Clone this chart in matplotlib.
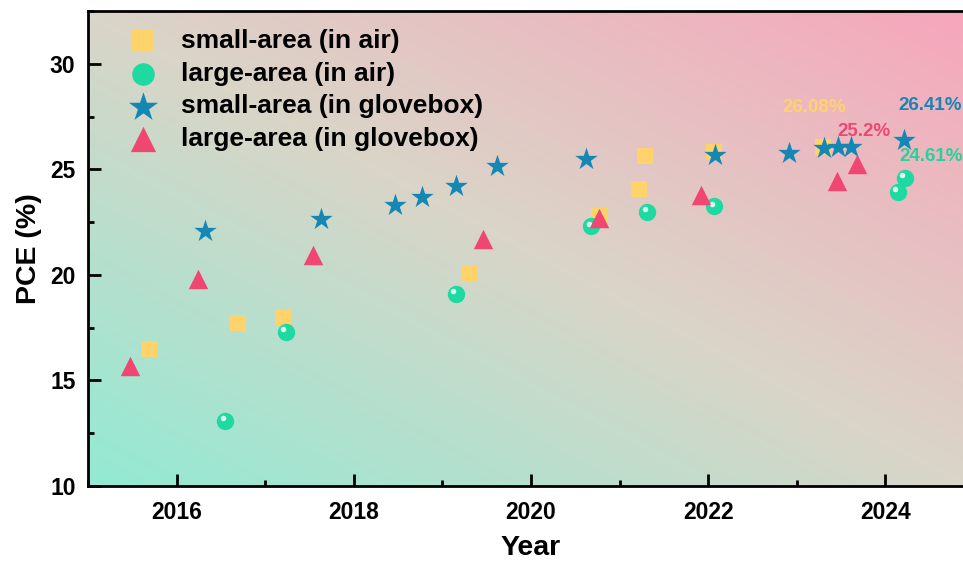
import numpy as np
import matplotlib
matplotlib.use("Agg")
import matplotlib.pyplot as plt
from matplotlib.colors import LinearSegmentedColormap
from matplotlib.transforms import ScaledTranslation
from matplotlib.ticker import MultipleLocator

# ---- data ----
small_air_year = [2015.69, 2016.69, 2017.20, 2019.30, 2020.77, 2021.22, 2021.29, 2022.06, 2023.30]
small_air_pce = [16.48, 17.70, 18.01, 20.06, 22.77, 24.08, 25.61, 25.81, 26.08]

large_air_year = [2016.55, 2017.23, 2019.15, 2020.68, 2021.31, 2022.07, 2024.14, 2024.22]
large_air_pce = [13.09, 17.30, 19.10, 22.30, 22.98, 23.26, 23.95, 24.61]

small_glove_year = [2016.32, 2017.63, 2018.46, 2018.77, 2019.15, 2019.62, 2020.62,
                    2022.08, 2022.91, 2023.31, 2023.46, 2023.61, 2024.21]
small_glove_pce = [22.06, 22.66, 23.29, 23.69, 24.19, 25.18, 25.47,
                   25.66, 25.77, 26.00, 26.05, 26.08, 26.41]

large_glove_year = [2015.47, 2016.24, 2017.54, 2019.46, 2020.77, 2021.92, 2023.45, 2023.68]
large_glove_pce = [15.70, 19.80, 20.96, 21.68, 22.69, 23.77, 24.44, 25.25]

labels = ["small-area (in air)", "large-area (in air)",
          "small-area (in glovebox)", "large-area (in glovebox)"]
record_text = ["26.08%", "24.61%", "26.41%", "25.2%"]

c_sq = "#FFD36B"
c_ci = "#1ED9A0"
c_st = "#1487B4"
c_tr = "#EF4672"

fig = plt.figure(figsize=(9.63, 5.61), dpi=100)
ax = fig.add_axes([88/963, 75/561, 886/963, 475/561])

# background gradient
n = 300
u = np.linspace(0, 1, n)
U, V = np.meshgrid(u, u)
T = (U + V) / 2.0
cmap = LinearSegmentedColormap.from_list(
    "bg", [(0.0, "#93EAD3"), (0.5, "#DAD5C8"), (1.0, "#F7A6BB")])
ax.imshow(T, cmap=cmap, origin="lower", extent=[0, 1, 0, 1],
          transform=ax.transAxes, aspect="auto", zorder=0, interpolation="bilinear")

ax.scatter(small_air_year, small_air_pce, marker="s", s=12**2, color=c_sq,
           linewidths=0, zorder=3, label=labels[0])
ax.scatter(large_air_year, large_air_pce, marker="o", s=12.5**2, color=c_ci,
           linewidths=0, zorder=4, label=labels[1])
hl = ScaledTranslation(-2.5/100, 2.5/100, fig.dpi_scale_trans)
ax.scatter(large_air_year, large_air_pce, marker="o", s=4**2, color="white",
           alpha=0.85, linewidths=0, zorder=4.5, transform=ax.transData + hl)
ax.scatter(small_glove_year, small_glove_pce, marker="*", s=17**2, color=c_st,
           linewidths=0, zorder=6, label=labels[2])
ax.scatter(large_glove_year, large_glove_pce, marker="^", s=14**2, color=c_tr,
           linewidths=0, zorder=5, label=labels[3])

afont = dict(family="Liberation Sans", weight="bold", size=13.5)
ax.annotate(record_text[0], (small_air_year[-1], small_air_pce[-1]),
            xytext=(-9, 39), textcoords="offset pixels", ha="center", va="center",
            color=c_sq, **afont)
ax.annotate(record_text[1], (large_air_year[-1], large_air_pce[-1]),
            xytext=(26, 21), textcoords="offset pixels", ha="center", va="center",
            color="#23D39B", **afont)
ax.annotate(record_text[2], (small_glove_year[-1], small_glove_pce[-1]),
            xytext=(26, 34), textcoords="offset pixels", ha="center", va="center",
            color=c_st, **afont)
ax.annotate(record_text[3], (large_glove_year[-1], large_glove_pce[-1]),
            xytext=(7, 33), textcoords="offset pixels", ha="center", va="center",
            color=c_tr, **afont)

ax.set_xlim(2015, 2025)
ax.set_ylim(10, 32.5)
ax.xaxis.set_major_locator(MultipleLocator(2))
ax.xaxis.set_minor_locator(MultipleLocator(1))
ax.yaxis.set_major_locator(MultipleLocator(5))
ax.yaxis.set_minor_locator(MultipleLocator(2.5))
ax.set_xticks([2016, 2018, 2020, 2022, 2024])
ax.set_yticks([10, 15, 20, 25, 30])

for sp in ax.spines.values():
    sp.set_linewidth(2)
ax.tick_params(which="both", direction="in", width=2, top=False, right=False)
ax.tick_params(which="major", length=9)
ax.tick_params(axis="y", which="major", pad=9)
ax.tick_params(axis="x", which="major", pad=11)
ax.tick_params(which="minor", length=4.5)
for lab in ax.get_xticklabels() + ax.get_yticklabels():
    lab.set_fontfamily("Liberation Sans")
    lab.set_fontweight("bold")
    lab.set_fontsize(16.5)

ax.set_xlabel("Year", fontfamily="Liberation Sans", fontweight="bold", fontsize=20.5)
ax.set_ylabel("PCE (%)", fontfamily="Liberation Sans", fontweight="bold", fontsize=20.5)
ax.xaxis.set_label_coords(0.5, -0.104)
ax.yaxis.set_label_coords(-0.052, 0.5)

leg = ax.legend(loc="upper left", bbox_to_anchor=(0.044, 0.962), frameon=False,
                borderpad=0, borderaxespad=0, handlelength=1.2, handletextpad=0.85,
                labelspacing=0.33, markerscale=1.3,
                prop=dict(family="Liberation Sans", weight="bold", size=19))

fig.savefig("out.png", dpi=100)
